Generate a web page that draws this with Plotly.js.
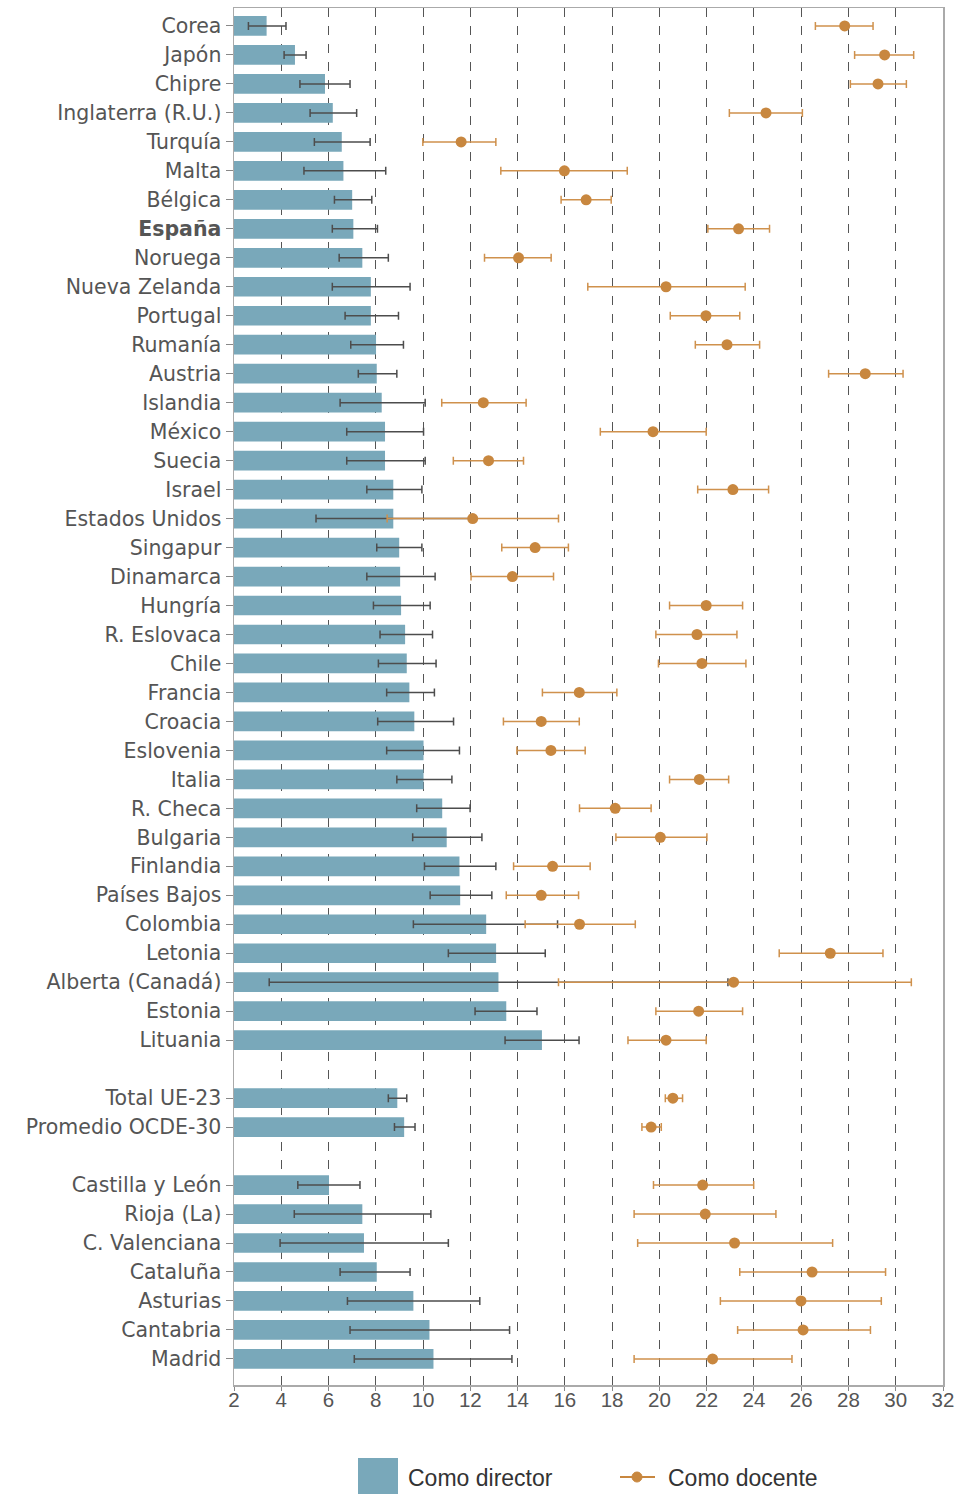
<!DOCTYPE html>
<html>
<head>
<meta charset="utf-8">
<script src="https://cdn.plot.ly/plotly-3.0.1.min.js"></script>
<style>html,body{margin:0;padding:0;background:#fff;}#chart{width:960px;height:1494px;}</style>
</head>
<body>
<div id="chart"></div>
<script>
const countries = ["Corea","Japón","Chipre","Inglaterra (R.U.)","Turquía","Malta","Bélgica","España","Noruega","Nueva Zelanda","Portugal","Rumanía","Austria","Islandia","México","Suecia","Israel","Estados Unidos","Singapur","Dinamarca","Hungría","R. Eslovaca","Chile","Francia","Croacia","Eslovenia","Italia","R. Checa","Bulgaria","Finlandia","Países Bajos","Colombia","Letonia","Alberta (Canadá)","Estonia","Lituania"];
const averages = ["Total UE-23","Promedio OCDE-30"];
const regions = ["Castilla y León","Rioja (La)","C. Valenciana","Cataluña","Asturias","Cantabria","Madrid"];

const directorVal = [3.38,4.58,5.85,6.18,6.56,6.63,7.00,7.05,7.43,7.79,7.79,8.01,8.04,8.25,8.39,8.39,8.74,8.74,8.99,9.03,9.07,9.24,9.31,9.42,9.63,10.02,10.02,10.81,11.00,11.54,11.57,12.67,13.09,13.19,13.52,15.03, 8.91,9.20, 6.02,7.43,7.50,8.04,9.59,10.27,10.44];
const directorLo = [2.61,4.12,4.79,5.22,5.40,4.96,6.25,6.16,6.45,6.16,6.70,6.94,7.26,6.49,6.77,6.77,7.62,5.47,8.04,7.62,7.90,8.18,8.11,8.46,8.08,8.46,8.89,9.73,9.56,10.06,10.30,9.59,11.07,3.49,12.20,13.47, 8.53,8.79, 4.70,4.55,3.95,6.49,6.80,6.91,7.09];
const directorHi = [4.20,5.05,6.91,7.19,7.76,8.42,7.83,8.07,8.53,9.45,8.96,9.17,8.89,10.09,10.02,10.09,9.95,12.00,9.95,10.51,10.30,10.40,10.55,10.48,11.29,11.54,11.22,11.99,12.49,13.08,12.91,15.69,15.17,22.90,14.82,16.60, 9.31,9.66, 7.33,10.33,11.07,9.45,12.40,13.66,13.76];

const docenteVal = [27.84,29.53,29.25,24.51,11.61,15.98,16.90,23.35,14.04,20.28,21.97,22.86,28.71,12.55,19.73,12.77,23.11,12.10,14.74,13.78,21.98,21.59,21.80,16.61,15.00,15.41,21.69,18.13,20.04,15.48,15.00,16.62,27.23,23.14,21.66,20.28, 20.57,19.65, 21.83,21.94,23.18,26.46,25.99,26.08,22.25];
const docenteLo = [26.60,28.26,28.08,22.96,9.99,13.29,15.84,22.05,12.60,16.97,20.46,21.52,27.16,10.79,17.50,11.28,21.62,8.48,13.33,12.03,20.43,19.85,19.96,15.05,13.40,13.97,20.43,16.62,18.16,13.83,13.52,14.32,25.07,15.73,19.85,18.67, 20.25,19.26, 19.75,18.93,19.08,23.40,22.58,23.31,18.93];
const docenteHi = [29.04,30.76,30.45,26.05,13.08,18.64,17.96,24.66,15.42,23.63,23.40,24.24,30.31,14.36,21.98,14.25,24.62,15.73,16.15,15.52,23.52,23.28,23.66,18.20,16.61,16.86,22.93,19.65,22.01,17.07,16.58,18.98,29.46,30.66,23.52,21.98, 20.98,20.08, 23.99,24.93,27.33,29.57,29.39,28.93,25.61];

const xTicks = [2,4,6,8,10,12,14,16,18,20,22,24,26,28,30,32];
const legendNames = ["Como director", "Como docente"];

// Build row positions with a blank row between groups
const groups = [countries, averages, regions];
const labels = [];
const ypos = [];
let row = 0;
groups.forEach((g, gi) => {
  if (gi > 0) row += 1;
  g.forEach(name => {
    labels.push(name === "España" ? "<b>España</b>" : name);
    ypos.push(row);
    row += 1;
  });
});
const lastRow = row - 1;

const dirPlus = directorHi.map((h, i) => +(h - directorVal[i]).toFixed(3));
const dirMinus = directorLo.map((l, i) => +(directorVal[i] - l).toFixed(3));
const docPlus = docenteHi.map((h, i) => +(h - docenteVal[i]).toFixed(3));
const docMinus = docenteLo.map((l, i) => +(docenteVal[i] - l).toFixed(3));

const barColor = "#79a8ba";
const orange = "#c8873f";

const traces = [
  {
    type: "bar", orientation: "h", name: legendNames[0],
    x: directorVal, y: ypos, width: 0.68,
    marker: {color: barColor},
    error_x: {type: "data", symmetric: false, array: dirPlus, arrayminus: dirMinus,
              color: "#4d4d4d", thickness: 1.5, width: 4},
    showlegend: false
  },
  {
    type: "scatter", mode: "markers", name: legendNames[1],
    x: docenteVal, y: ypos,
    marker: {color: orange, size: 11},
    error_x: {type: "data", symmetric: false, array: docPlus, arrayminus: docMinus,
              color: "#cf914d", thickness: 1.5, width: 4},
    showlegend: false
  }
];

// Manual legend (paper coordinates below the plot)
const L = {l: 234, r: 17, t: 8, b: 109};
const pw = 960 - L.l - L.r, ph = 1494 - L.t - L.b;
const px = v => (v - L.l) / pw;
const py = v => (1494 - L.b - v) / ph;

const layout = {
  width: 960, height: 1494,
  margin: L,
  paper_bgcolor: "#fff", plot_bgcolor: "#fff",
  font: {family: "Liberation Sans, Arial, sans-serif", size: 17, color: "#555"},
  showlegend: false,
  xaxis: {
    range: [2, 32], tickvals: xTicks, ticktext: xTicks.map(String),
    showgrid: true, gridcolor: "#555", gridwidth: 1, griddash: "dash",
    zeroline: false, showline: true, linecolor: "#aaa", linewidth: 1.5, mirror: true,
    ticks: "outside", ticklen: 4, tickcolor: "#888", ticklabelstandoff: -8,
    tickfont: {family: "Liberation Sans, Arial, sans-serif", size: 20.5, color: "#555"}
  },
  yaxis: {
    range: [lastRow + 0.9, -0.62], tickvals: ypos, ticktext: labels,
    showgrid: false, zeroline: false, showline: true, linecolor: "#aaa", linewidth: 1.5, mirror: true,
    ticks: "outside", ticklen: 7, tickcolor: "#888",
    tickfont: {family: "DejaVu Sans, sans-serif", size: 20.5, color: "#555"}
  },
  shapes: [
    {type: "rect", xref: "paper", yref: "paper", x0: px(358), x1: px(398), y0: py(1458), y1: py(1494),
     fillcolor: barColor, line: {width: 0}},
    {type: "line", xref: "paper", yref: "paper", x0: px(620), x1: px(655), y0: py(1477), y1: py(1477),
     line: {color: orange, width: 2}},
    {type: "circle", xref: "paper", yref: "paper", x0: px(632), x1: px(642), y0: py(1472), y1: py(1482),
     fillcolor: orange, line: {color: orange, width: 1}}
  ],
  annotations: [
    {xref: "paper", yref: "paper", x: px(406), y: py(1478), xanchor: "left", yanchor: "middle",
     text: legendNames[0], showarrow: false, font: {family: "Liberation Sans, Arial, sans-serif", size: 23, color: "#333"}},
    {xref: "paper", yref: "paper", x: px(666), y: py(1478), xanchor: "left", yanchor: "middle",
     text: legendNames[1], showarrow: false, font: {family: "Liberation Sans, Arial, sans-serif", size: 23, color: "#333"}}
  ]
};

Plotly.newPlot("chart", traces, layout, {displayModeBar: false, staticPlot: true});
</script>
</body>
</html>
